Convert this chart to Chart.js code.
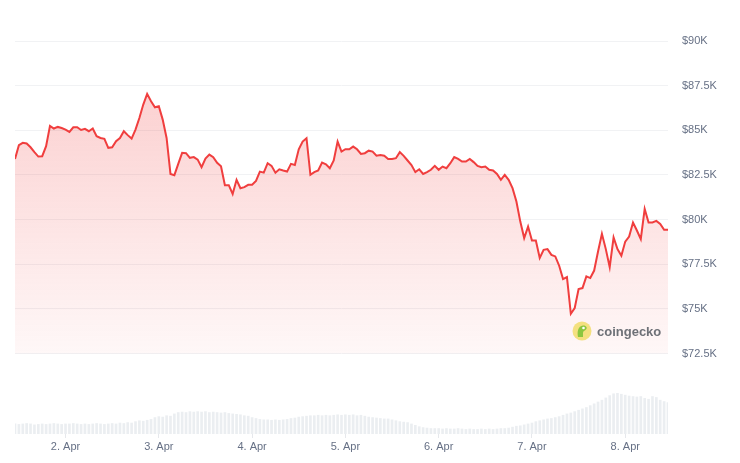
<!DOCTYPE html>
<html>
<head>
<meta charset="utf-8">
<script src="https://cdn.jsdelivr.net/npm/chart.js@4.4.1/dist/chart.umd.min.js"></script>
<style>
  body { margin: 0; background: #fff; }
  #wrap { position: relative; width: 740px; height: 463px; }
  .brand {
    position: absolute; left: 572px; top: 321px;
    display: flex; align-items: center; gap: 5px;
    font: bold 13px "Liberation Sans", Arial, sans-serif; color: #6e7177;
  }
</style>
</head>
<body>
<div id="wrap">
  <canvas id="priceChart" width="740" height="463"></canvas>
  <div class="brand">
    <svg width="20" height="20" viewBox="0 0 20 20">
      <circle cx="10" cy="10" r="9.5" fill="#f4e07f"/>
      <path d="M6 16 C5 11 6 5 11 4.5 C14.5 4.3 15.5 7 14 8.5 C12.5 10 11 10 11 12 L11 16 Z" fill="#8cc63f"/>
      <circle cx="11.5" cy="7" r="1.3" fill="#fff"/>
    </svg>
    <span>coingecko</span>
  </div>
</div>
<script>
'use strict';

// hourly points, first one at 1 Apr 11:00 (hour 11 counted from 1 Apr 00:00)
const startHour = 11;

const prices = [
  83400, 84170, 84300, 84260, 84050, 83780, 83530, 83550, 84110, 85250,
  85100, 85190, 85130, 85040, 84910, 85170, 85170, 85020, 85080, 84950,
  85100, 84670, 84570, 84520, 84020, 84050, 84390, 84570, 84950, 84730,
  84540, 85040, 85690, 86440, 87040, 86630, 86290, 86350, 85600, 84570,
  82560, 82490, 83120, 83740, 83720, 83460, 83500, 83360, 82940, 83420,
  83640, 83500, 83180, 82990, 81930, 81930, 81440, 82230, 81760, 81820,
  81950, 81950, 82170, 82690, 82630, 83160, 83010, 82630, 82820, 82750,
  82690, 83120, 83060, 83940, 84370, 84560, 82510, 82660, 82750, 83190,
  83100, 82880, 83310, 84370, 83810, 83940, 83940, 84090, 83940, 83680,
  83720, 83860, 83810, 83580, 83620, 83580, 83400, 83400, 83440, 83780,
  83570, 83310, 83060, 82660, 82820, 82560, 82660, 82790, 83010, 82790,
  82970, 82880, 83160, 83500, 83400, 83250, 83250, 83400, 83220, 83010,
  82940, 82970, 82790, 82750, 82560, 82230, 82510, 82230, 81760, 81010,
  79890, 78970, 79610, 78830, 78830, 77850, 78310, 78350, 78030, 77940,
  77420, 76670, 76780, 74730, 75050, 76110, 76170, 76820, 76730, 77150,
  78220, 79210, 78350, 77340, 79000, 78350, 77980, 78770, 79050, 79840,
  79390, 78910, 80600, 79840, 79840, 79930, 79760, 79430, 79430
];

// 24h volume, billions USD
const volumes = [
  22, 21, 22, 23, 22, 20, 21, 22, 21, 22, 23, 22,
  21, 22, 22, 23, 22, 21, 22, 21, 22, 23, 22, 21,
  22, 23, 22, 24, 23, 25, 24, 27, 29, 28, 30, 32,
  36, 38, 37, 40, 39, 44, 47, 48, 47, 49, 48, 49,
  48, 49, 47, 48, 47, 46, 47, 45, 44, 43, 42, 40,
  39, 36, 34, 32, 31, 31, 30, 31, 30, 31, 32, 34,
  35, 37, 38, 39, 40, 40, 41, 40, 41, 40, 41, 42,
  41, 42, 41, 42, 40, 41, 39, 37, 36, 35, 34, 33,
  33, 31, 29, 27, 26, 25, 22, 19, 16, 14, 13, 12,
  12, 12, 11, 12, 11, 11, 12, 11, 10, 11, 10, 10,
  11, 10, 11, 10, 11, 12, 12, 13, 15, 17, 18, 20,
  22, 24, 27, 29, 31, 33, 34, 36, 38, 41, 44, 46,
  49, 52, 55, 58, 62, 66, 70, 74, 79, 84, 88, 89,
  87, 85, 83, 82, 81, 82, 78, 76, 82, 80, 74, 71,
  69
];

const dayTicks = [24, 48, 72, 96, 120, 144, 168];
const dayLabels = ['2. Apr', '3. Apr', '4. Apr', '5. Apr', '6. Apr', '7. Apr', '8. Apr'];
const priceTicks = [72500, 75000, 77500, 80000, 82500, 85000, 87500, 90000];

const lineRed = '#f03e3e';
const tickFont = { family: '"Liberation Sans", Arial, sans-serif', size: 11 };
const tickColor = '#667085';

function areaGradient(context) {
  const chart = context.chart;
  const area = chart.chartArea;
  if (!area) return 'rgba(240,62,62,0.15)';
  const yScale = chart.scales.y;
  const ctx = chart.ctx;
  const bottom = yScale.getPixelForValue(72500);
  const g = ctx.createLinearGradient(0, area.top, 0, bottom);
  g.addColorStop(0, 'rgba(240,62,62,0.28)');
  g.addColorStop(1, 'rgba(240,62,62,0.04)');
  return g;
}

function renderChart() {
  const ctx = document.getElementById('priceChart');

  new Chart(ctx, {
    type: 'line',
    data: {
      datasets: [
        {
          label: 'Price',
          data: prices.map((p, i) => ({ x: startHour + i, y: p })),
          borderColor: lineRed,
          borderWidth: 2,
          pointRadius: 0,
          tension: 0,
          fill: { value: 72500 },
          backgroundColor: areaGradient,
          yAxisID: 'y',
          order: 1
        },
        {
          type: 'bar',
          label: 'Volume',
          data: volumes.map((v, i) => ({ x: startHour + i, y: v })),
          backgroundColor: 'rgba(222,226,232,0.6)',
          barThickness: 2,
          yAxisID: 'vol',
          order: 2
        }
      ]
    },
    options: {
      responsive: false,
      animation: false,
      layout: { padding: { left: 15, top: 41, right: 0, bottom: 0 } },
      plugins: {
        legend: { display: false },
        tooltip: { enabled: false }
      },
      scales: {
        x: {
          type: 'linear',
          min: startHour,
          max: startHour + prices.length - 1,
          offset: false,
          afterBuildTicks: (scale) => { scale.ticks = dayTicks.map(v => ({ value: v })); },
          afterFit: (scale) => { scale.height = 29; },
          ticks: {
            font: tickFont,
            color: tickColor,
            padding: 2,
            maxRotation: 0,
            callback: (v) => dayLabels[dayTicks.indexOf(v)]
          },
          grid: {
            offset: false,
            drawOnChartArea: false,
            tickLength: 4,
            color: '#e6e8ec'
          },
          border: { display: false }
        },
        y: {
          position: 'right',
          min: 68000,
          max: 90000,
          afterBuildTicks: (scale) => { scale.ticks = priceTicks.map(v => ({ value: v })); },
          afterFit: (scale) => { scale.width = 72; },
          ticks: {
            font: tickFont,
            color: tickColor,
            padding: 14,
            callback: (v) => '$' + (v / 1000) + 'K'
          },
          grid: { color: '#f1f2f4', drawTicks: false },
          border: { display: false }
        },
        vol: {
          display: false,
          min: 0,
          max: 860
        }
      }
    }
  });
}

document.addEventListener('DOMContentLoaded', renderChart);
</script>
</body>
</html>
